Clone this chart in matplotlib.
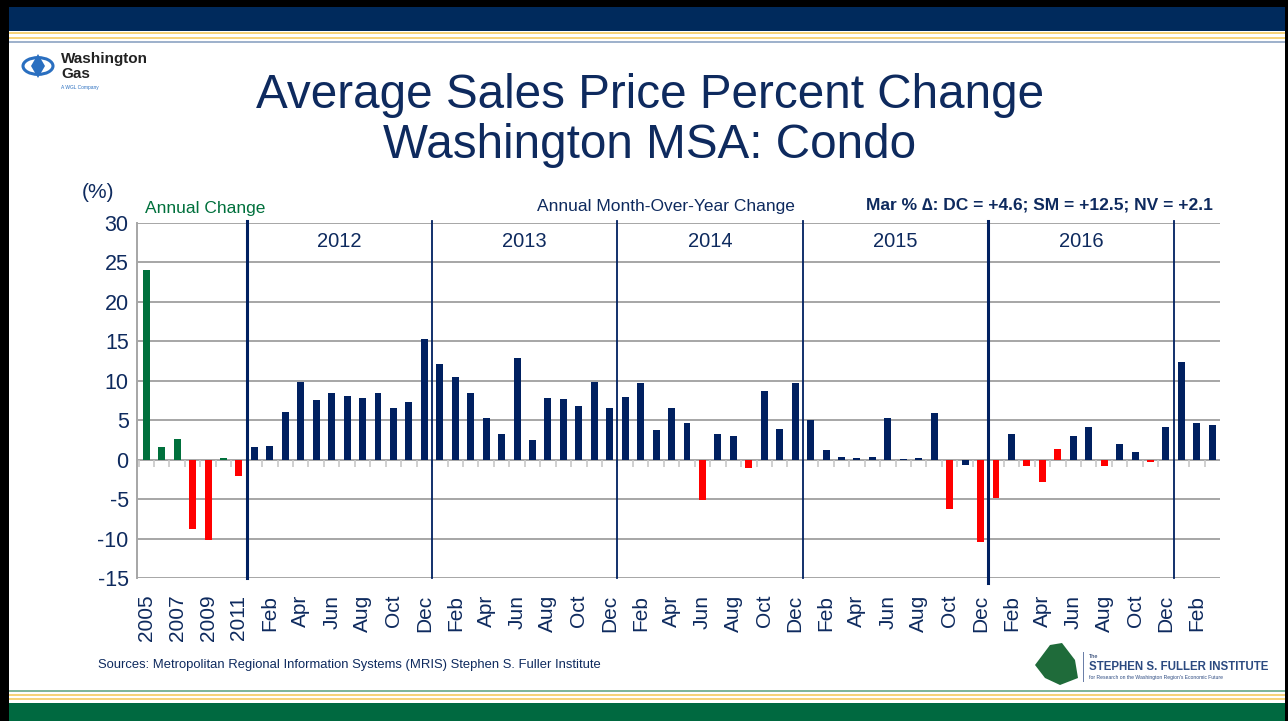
import matplotlib
matplotlib.use("Agg")
import matplotlib.pyplot as plt
from matplotlib.patches import Rectangle, Circle, Polygon

plt.rcParams["axes.unicode_minus"] = False

# ---------------- data ----------------
annual_years = ["2005", "2006", "2007", "2008", "2009", "2010", "2011"]
annual_change = [24.1, 1.6, 2.6, -8.8, -10.2, 0.2, -2.1]
annual_red = [3, 4, 6]

section_years = ["2012", "2013", "2014", "2015", "2016"]
month_names = ["Jan", "Feb", "Mar", "Apr", "May", "Jun",
               "Jul", "Aug", "Sep", "Oct", "Nov", "Dec"]
monthly_change = [
    1.6, 1.7, 6.1, 9.9, 7.5, 8.4, 8.1, 7.8, 8.5, 6.6, 7.35, 15.3,
    12.1, 10.5, 8.4, 5.3, 3.3, 12.9, 2.5, 7.8, 7.7, 6.8, 9.8, 6.5,
    7.9, 9.7, 3.8, 6.6, 4.7, -5.1, 3.2, 3.0, -1.05, 8.7, 3.9, 9.7,
    5.0, 1.2, 0.4, 0.25, 0.4, 5.3, 0.1, 0.15, 5.9, -6.2, -0.7, -10.4,
    -4.9, 3.2, -0.8, -2.8, 1.4, 3.0, 4.2, -0.8, 1.95, 0.95, -0.3, 4.1,
    12.4, 4.6, 4.35,
]
monthly_red = [29, 32, 45, 47, 48, 50, 51, 52, 55, 58]

NAVY = "#002060"
TXT = "#0e2a5e"
GREEN = "#00703c"
RED = "#ff0000"
GRID = "#a6a6a6"
NARROW = ["Liberation Sans Narrow", "Liberation Sans", "DejaVu Sans"]
REG = ["Liberation Sans", "DejaVu Sans"]

W, H = 1288, 721
fig = plt.figure(figsize=(W / 100, H / 100), dpi=100)


def px_rect(x, y, w, h, color, z=0):
    fig.add_artist(Rectangle((x / W, 1 - (y + h) / H), w / W, h / H,
                             transform=fig.transFigure, color=color,
                             lw=0, zorder=z))


# slide frame and banners
px_rect(0, 0, W, 7, "black")
px_rect(0, 0, 9, H, "black")
px_rect(W - 3, 0, 3, H, "black")
px_rect(9, 7, W - 12, 24, "#002a5c")
px_rect(9, 32, W - 12, 2, "#f6d37a")
px_rect(9, 37, W - 12, 2, "#f6d37a")
px_rect(9, 41, W - 12, 2, "#9fb2cc")
px_rect(9, 690, W - 12, 1.5, "#7fb59a")
px_rect(9, 694, W - 12, 2, "#f6d37a")
px_rect(9, 698, W - 12, 2, "#f6d37a")
px_rect(9, 703, W - 12, 18, "#006940")

# Washington Gas logo
fig.add_artist(Circle((38 / W, 1 - 66 / H), 15 / W, transform=fig.transFigure,
                      fill=False, ec="#2a6fc0", lw=2.2))
fig.add_artist(Polygon([(38 / W, 1 - 54 / H), (45 / W, 1 - 66 / H),
                        (38 / W, 1 - 78 / H), (31 / W, 1 - 66 / H)],
                       closed=True, transform=fig.transFigure,
                       color="#2a6fc0", lw=0))
fig.text(61 / W, 1 - 59 / H, "Washington", fontsize=11, fontweight="bold",
         color="#222222", family=REG, va="center")
fig.text(61 / W, 1 - 74 / H, "Gas", fontsize=11, fontweight="bold",
         color="#222222", family=REG, va="center")
fig.text(61 / W, 1 - 87 / H, "A WGL Company", fontsize=3.5, color="#2a6fc0",
         family=REG, va="center")

# Fuller institute logo
fig.add_artist(Polygon([(1035 / W, 1 - 665 / H), (1050 / W, 1 - 645 / H),
                        (1062 / W, 1 - 643 / H), (1075 / W, 1 - 660 / H),
                        (1078 / W, 1 - 678 / H), (1060 / W, 1 - 685 / H),
                        (1045 / W, 1 - 678 / H)],
                       closed=True, transform=fig.transFigure, color="#1f6b3a", lw=0))
fig.add_artist(Rectangle((1083 / W, 1 - 682 / H), 1 / W, 30 / H,
                         transform=fig.transFigure, color="#6b7fa8", lw=0))
fig.text(1089 / W, 1 - 656 / H, "The", fontsize=4, color=TXT, family=NARROW,
         va="center")
fig.text(1089 / W, 1 - 667 / H, "STEPHEN S. FULLER INSTITUTE", fontsize=8.3,
         fontweight="bold", color="#2c4a80", family=NARROW, va="center")
fig.text(1089 / W, 1 - 677 / H,
         "for Research on the Washington Region's Economic Future",
         fontsize=3.6, color="#2c4a80", family=NARROW, va="center")

# titles
fig.text(650 / W, 1 - 96 / H, "Average Sales Price Percent Change", fontsize=34.3,
         color=TXT, family=REG, ha="center", va="center")
fig.text(650 / W, 1 - 146 / H, "Washington MSA: Condo", fontsize=34.3,
         color=TXT, family=REG, ha="center", va="center")

# ---------------- chart ----------------
ax = fig.add_axes([137 / W, 1 - 578 / H, (1220 - 137) / W, (578 - 223) / H])

values = annual_change + monthly_change
n_annual = len(annual_change)
positions = list(range(len(values)))
colors = []
for i in range(n_annual):
    colors.append(RED if i in annual_red else GREEN)
for i in range(len(monthly_change)):
    colors.append(RED if i in monthly_red else NAVY)

ax.bar(positions, values, width=0.45, color=colors, zorder=3)

ax.set_xlim(-0.6, len(values) - 0.5)
ax.set_ylim(-15, 30)
ax.set_yticks(range(-15, 31, 5))
ax.yaxis.grid(True, color=GRID, lw=1.4, zorder=0)
ax.tick_params(axis="y", length=0, labelsize=15.5, labelcolor=TXT, pad=6)
for lab in ax.get_yticklabels():
    lab.set_family(NARROW)

for s in ["top", "right", "bottom"]:
    ax.spines[s].set_visible(False)
ax.spines["left"].set_color(GRID)
ax.spines["left"].set_linewidth(1.4)

# x tick labels
tick_pos, tick_lab = [], []
for i in range(0, n_annual, 2):
    tick_pos.append(i)
    tick_lab.append(annual_years[i])
for m in range(len(monthly_change)):
    if m % 12 % 2 == 1:
        tick_pos.append(n_annual + m)
        tick_lab.append(month_names[m % 12])
ax.set_xticks(tick_pos)
ax.set_xticklabels(tick_lab, rotation=90, fontsize=15, color=TXT, family=NARROW)
ax.tick_params(axis="x", length=0, pad=12)

# small ticks under the zero line
ax.vlines([p + 0.5 for p in positions[:-1]] + [-0.5], -0.9, 0, color="#c8c8c8",
          lw=1.2, zorder=2)

# section dividers and year labels
bounds = [n_annual - 0.5 + 12 * k for k in range(len(section_years) + 1)]
for k, b in enumerate(bounds):
    lw = 2.2 if k in (0, 4) else 1.3
    ax.plot([b, b], [-15.6 if k == 4 else -15, 30.3], color=NAVY, lw=lw,
            zorder=4, clip_on=False)
for k, yr in enumerate(section_years):
    ax.text((bounds[k] + bounds[k + 1]) / 2, 27.6, yr, fontsize=14.5, color=TXT,
            family=NARROW, ha="center", va="center")

# header texts
fig.text(98 / W, 1 - 193 / H, "(%)", fontsize=15, color=TXT, family=NARROW,
         ha="center", va="center")
fig.text(145 / W, 1 - 209 / H, "Annual Change", fontsize=12.5, color=GREEN,
         family=NARROW, va="center")
fig.text(666 / W, 1 - 206 / H, "Annual Month-Over-Year Change", fontsize=12.5,
         color=TXT, family=NARROW, ha="center", va="center")
fig.text(1213 / W, 1 - 205 / H, "Mar % \u2206: DC = +4.6; SM = +12.5; NV = +2.1",
         fontsize=12.5, color=TXT, family=NARROW, fontweight="bold",
         ha="right", va="center")

fig.text(98 / W, 1 - 665 / H,
         "Sources: Metropolitan Regional Information Systems (MRIS) Stephen S. Fuller Institute",
         fontsize=9.4, color=TXT, family=NARROW, va="center")

fig.savefig("out.png", dpi=100)
